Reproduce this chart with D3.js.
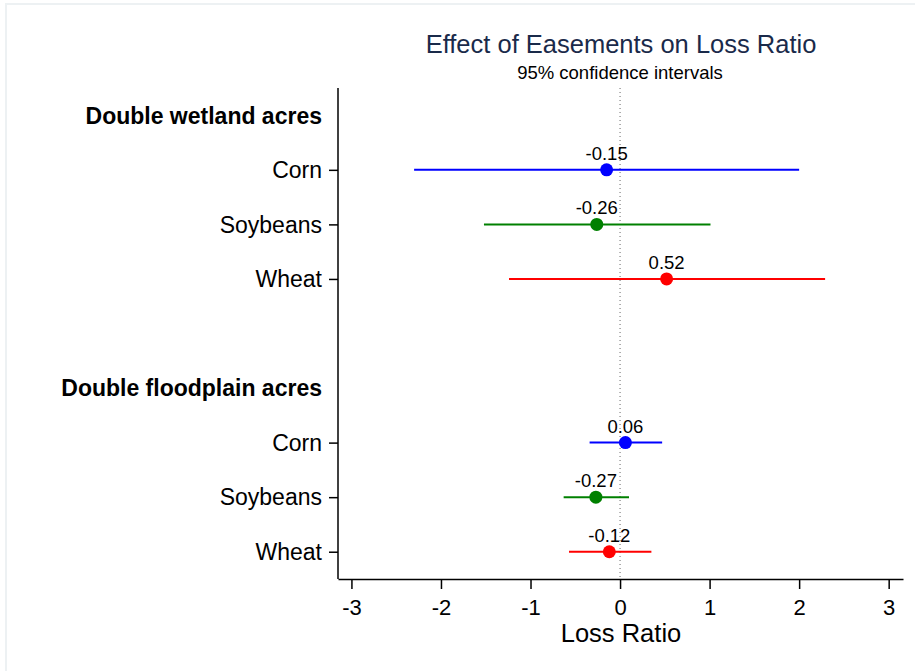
<!DOCTYPE html>
<html lang="en">

<head>
    <meta charset="UTF-8">
    <title>Effect of Easements on Loss Ratio</title>
    <style>
        body { margin: 0; background: #fff; }
        text { font-family: "Liberation Sans", Arial, sans-serif; }
    </style>
</head>

<body>
    <div id="wrapper"></div>

    <script src="https://d3js.org/d3.v7.min.js"></script>
    <script>
        // data
        const groups = ["Double wetland acres", "Double floodplain acres"];
        const crops = ["Corn", "Soybeans", "Wheat"];
        const colors = ["#0000ff", "#008000", "#ff0000"];
        const estimates = [-0.15, -0.26, 0.52, 0.06, -0.27, -0.12];
        const lower = [-2.30, -1.52, -1.24, -0.34, -0.63, -0.57];
        const upper = [2.00, 1.01, 2.29, 0.47, 0.10, 0.35];
        const xTicks = [-3, -2, -1, 0, 1, 2, 3];

        const width = 915, height = 671;
        const plotLeft = 338, plotRight = 903, plotTop = 88, plotBottom = 579;

        const svg = d3.select('#wrapper').append('svg')
            .attr('width', width)
            .attr('height', height);

        // faint frame at top / left edge
        svg.append('line').attr('x1', 5).attr('x2', width).attr('y1', 4).attr('y2', 4)
            .attr('stroke', '#edf1f3').attr('stroke-width', 2);
        svg.append('line').attr('x1', 6).attr('x2', 6).attr('y1', 4).attr('y2', height)
            .attr('stroke', '#edf1f3').attr('stroke-width', 2);

        // rows: header, 3 crops, blank gap, header, 3 crops
        const rows = [];
        groups.forEach((g, gi) => {
            if (gi > 0) rows.push({ type: 'blank', key: 'blank' + gi });
            rows.push({ type: 'header', key: 'h' + gi, label: g });
            crops.forEach((c, ci) => {
                const i = gi * crops.length + ci;
                rows.push({
                    type: 'item', key: 'r' + i, label: c, color: colors[ci],
                    est: estimates[i], lo: lower[i], hi: upper[i]
                });
            });
        });
        const items = rows.filter(r => r.type === 'item');

        const x = d3.scaleLinear().domain([-3.15, 3.16]).range([plotLeft, plotRight]);
        const y = d3.scalePoint().domain(rows.map(r => r.key)).range([plotTop, plotBottom]).padding(0.5);

        // title
        svg.append('text')
            .attr('x', 621).attr('y', 53)
            .attr('text-anchor', 'middle')
            .attr('font-size', 25.5)
            .attr('fill', '#1a2a4a')
            .text('Effect of Easements on Loss Ratio');
        svg.append('text')
            .attr('x', 620).attr('y', 79)
            .attr('text-anchor', 'middle')
            .attr('font-size', 18.5)
            .attr('fill', '#000')
            .text('95% confidence intervals');

        // reference line at zero
        svg.append('line')
            .attr('x1', x(0)).attr('x2', x(0))
            .attr('y1', plotTop).attr('y2', plotBottom)
            .attr('stroke', '#666').attr('stroke-width', 1)
            .attr('stroke-dasharray', '1,3');

        // x axis
        const xAxis = d3.axisBottom(x)
            .tickValues(xTicks)
            .tickFormat(d => String(d))
            .tickSizeInner(10)
            .tickSizeOuter(0)
            .tickPadding(10);
        const gx = svg.append('g')
            .attr('transform', `translate(0,${plotBottom})`)
            .call(xAxis);
        gx.select('.domain').attr('stroke', '#000').attr('stroke-width', 1.5);
        gx.selectAll('.tick line').attr('stroke', '#000').attr('stroke-width', 1.5);
        gx.selectAll('.tick text')
            .attr('font-size', 22)
            .attr('font-family', '"Liberation Sans", Arial, sans-serif')
            .attr('fill', '#000');

        svg.append('text')
            .attr('x', 621).attr('y', 642)
            .attr('text-anchor', 'middle')
            .attr('font-size', 25.5)
            .text('Loss Ratio');

        // y axis
        const yAxis = d3.axisLeft(y)
            .tickValues(items.map(r => r.key))
            .tickFormat('')
            .tickSizeInner(9)
            .tickSizeOuter(0);
        const gy = svg.append('g')
            .attr('transform', `translate(${plotLeft},0)`)
            .call(yAxis);
        gy.select('.domain').attr('stroke', '#000').attr('stroke-width', 1.5)
            .attr('d', `M0,${plotTop}V${plotBottom}`);
        gy.selectAll('.tick line').attr('stroke', '#000').attr('stroke-width', 1.5);

        // row labels
        svg.append('g').selectAll('text')
            .data(rows.filter(r => r.type !== 'blank'))
            .join('text')
            .attr('x', 322)
            .attr('y', d => y(d.key))
            .attr('dy', '0.36em')
            .attr('text-anchor', 'end')
            .attr('font-size', 23)
            .attr('font-weight', d => d.type === 'header' ? 'bold' : 'normal')
            .attr('fill', '#000')
            .text(d => d.label);

        // confidence intervals
        svg.append('g').selectAll('line')
            .data(items)
            .join('line')
            .attr('x1', d => x(d.lo)).attr('x2', d => x(d.hi))
            .attr('y1', d => y(d.key)).attr('y2', d => y(d.key))
            .attr('stroke', d => d.color)
            .attr('stroke-width', 2);

        // point estimates
        svg.append('g').selectAll('circle')
            .data(items)
            .join('circle')
            .attr('cx', d => x(d.est))
            .attr('cy', d => y(d.key))
            .attr('r', 6.5)
            .attr('fill', d => d.color);

        // value labels
        svg.append('g').selectAll('text')
            .data(items)
            .join('text')
            .attr('x', d => x(d.est))
            .attr('y', d => y(d.key) - 10)
            .attr('text-anchor', 'middle')
            .attr('font-size', 18.5)
            .attr('fill', '#000')
            .text(d => d.est.toFixed(2));
    </script>
</body>

</html>
